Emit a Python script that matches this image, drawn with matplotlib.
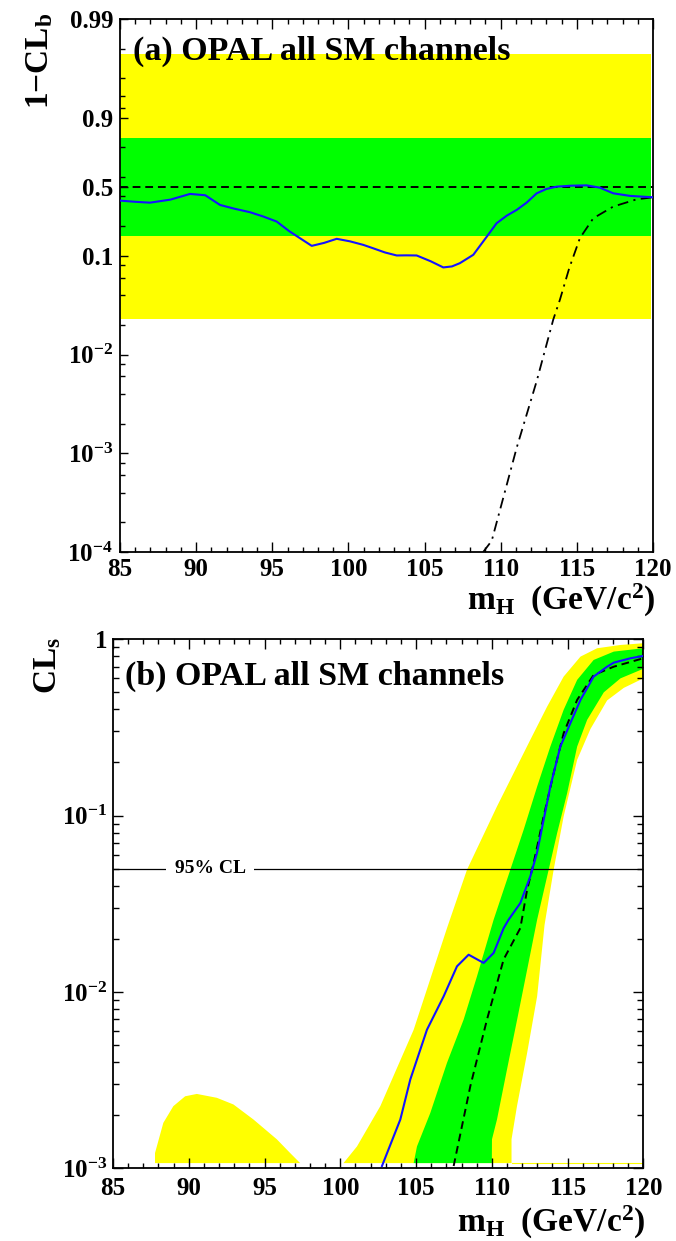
import numpy as np
import matplotlib
matplotlib.use("Agg")
import matplotlib.pyplot as plt
from matplotlib.ticker import FixedLocator, FixedFormatter, NullFormatter

plt.rcParams["font.family"] = ["Liberation Serif", "DejaVu Serif"]
plt.rcParams["font.weight"] = "bold"
plt.rcParams["mathtext.fontset"] = "custom"
plt.rcParams["mathtext.rm"] = "Liberation Serif:bold"
plt.rcParams["mathtext.it"] = "Liberation Serif:bold"
plt.rcParams["mathtext.bf"] = "Liberation Serif:bold"

# ---------------------------------------------------------------------------
# (a) 1 - CL_b
# ---------------------------------------------------------------------------
SIGMA_1 = (0.1587, 0.8413)
SIGMA_2 = (0.02275, 0.97725)
MEDIAN = 0.5

mh_obs_a = [85.0, 86.0, 86.97, 88.3, 89.6, 90.6, 91.57, 92.5, 93.54, 94.4,
            95.29, 96.1, 96.82, 97.59, 98.4, 99.23, 100.1, 100.97, 101.63,
            102.4, 103.17, 103.8, 104.48, 105.4, 106.23, 106.8, 107.32, 108.2,
            109.0, 109.73, 110.4, 111.05, 111.7, 112.36, 113.0, 113.67, 114.6,
            115.64, 116.5, 117.39, 118.49, 120.0]
clb_obs_a = [0.362, 0.352, 0.345, 0.37, 0.423, 0.41, 0.327, 0.30, 0.276, 0.25,
             0.222, 0.178, 0.1506, 0.126, 0.135, 0.1485, 0.14, 0.129, 0.119,
             0.108, 0.1007, 0.101, 0.1007, 0.088, 0.0762, 0.078, 0.0842, 0.1023,
             0.15, 0.2135, 0.255, 0.2915, 0.345, 0.4287, 0.475, 0.501, 0.512,
             0.516, 0.49, 0.429, 0.404, 0.391]

mh_sb_a = [108.85, 109.41, 111.05, 112.36, 113.45, 113.89, 114.5, 115.2,
           116.08, 117.39, 118.93, 120.0]
clb_sb_a = [1e-4, 1.3e-4, 1.14e-3, 5.37e-3, 0.0226, 0.036, 0.075, 0.151,
            0.24, 0.315, 0.373, 0.391]

YT_A = [1e-4, 1e-3, 1e-2, 0.1, 0.5, 0.9, 0.99]
YT_A_LABELS = [r"$10^{-4}$", r"$10^{-3}$", r"$10^{-2}$", "0.1", "0.5", "0.9", "0.99"]
YT_A_MINOR = [2e-4, 4e-4, 6e-4, 8e-4, 2e-3, 4e-3, 6e-3, 8e-3,
              0.02, 0.04, 0.06, 0.08, 0.2, 0.4, 0.6, 0.8,
              0.92, 0.94, 0.96, 0.98]

# ---------------------------------------------------------------------------
# (b) CL_s
# ---------------------------------------------------------------------------
CLAMP = 1.07e-3

# low-mass part of the upper 2 sigma edge
mh_y2_blob = [87.77, 87.77, 88.32, 88.98, 89.76, 90.53, 91.85, 92.95, 94.27,
              95.81, 96.69, 97.35]
cls_y2_blob = [1.07e-3, 1.22e-3, 1.81e-3, 2.25e-3, 2.56e-3, 2.64e-3, 2.51e-3,
               2.30e-3, 1.89e-3, 1.46e-3, 1.22e-3, 1.07e-3]

mh_y2_up = [100.21, 101.1, 102.64, 104.84, 107.04, 108.36, 110.34, 112.54,
            113.65, 114.74, 115.85, 116.95, 118.49, 120.0]
cls_y2_up = [1.07e-3, 1.33e-3, 2.25e-3, 6.1e-3, 0.023, 0.0493, 0.1127, 0.269,
             0.415, 0.614, 0.797, 0.889, 0.928, 0.949]
mh_y2_lo = [111.3, 111.3, 111.66, 112.33, 112.99, 113.48, 114.08, 114.74,
            115.63, 116.51, 117.61, 118.71, 120.0]
cls_y2_lo = [1.07e-3, 1.46e-3, 2.25e-3, 4.51e-3, 9.44e-3, 0.024, 0.0493,
             0.0989, 0.207, 0.31, 0.45, 0.53, 0.60]

mh_g1_up = [104.84, 105.06, 105.94, 107.04, 108.14, 109.02, 110.12, 111.22,
            112.1, 112.99, 113.86, 114.74, 115.63, 116.72, 118.05, 120.0]
cls_g1_up = [1.07e-3, 1.33e-3, 2.06e-3, 3.96e-3, 6.97e-3, 0.01225, 0.0257,
             0.0493, 0.0831, 0.146, 0.246, 0.398, 0.588, 0.763, 0.851, 0.889]
mh_g1_lo = [110.0, 110.01, 110.34, 111.0, 111.67, 112.33, 112.99, 113.65,
            114.31, 114.97, 115.63, 116.29, 117.39, 118.49, 120.0]
cls_g1_lo = [1.07e-3, 1.46e-3, 1.89e-3, 3.63e-3, 6.97e-3, 0.01337, 0.0257,
             0.0452, 0.0796, 0.134, 0.246, 0.349, 0.50, 0.60, 0.68]

mh_obs_b = [102.75, 103.96, 104.62, 105.72, 106.82, 107.7, 108.47, 109.46,
            110.12, 110.78, 111.11, 111.88, 112.54, 112.98, 113.42, 113.86,
            114.52, 115.18, 115.85, 116.72, 117.61, 118.05, 119.15, 120.0]
cls_obs_b = [1.03e-3, 1.89e-3, 3.19e-3, 6.11e-3, 9.44e-3, 0.01397, 0.01626,
             0.0146, 0.01664, 0.023, 0.0257, 0.0319, 0.0452, 0.0614, 0.0946,
             0.146, 0.246, 0.334, 0.453, 0.614, 0.699, 0.737, 0.780, 0.804]

mh_exp_b = [107.48, 108.58, 109.68, 110.78, 111.88, 112.33, 112.76, 113.42,
            114.08, 114.74, 115.63, 116.72, 118.05, 120.0]
cls_exp_b = [1.03e-3, 2.92e-3, 6.97e-3, 0.0153, 0.023, 0.038, 0.0538, 0.0989,
             0.174, 0.293, 0.453, 0.627, 0.699, 0.78]

CL95 = 0.05

YELLOW = "#ffff00"
GREEN = "#00ff00"
BLUE = "#1414ff"


# ---------------------------------------------------------------------------
# escala "log simetrica" en torno a 0.5 para 1-CL_b
# ---------------------------------------------------------------------------
LOG_HALF = np.log10(0.5)


def clb_forward(v):
    v = np.clip(np.asarray(v, dtype=float), 1e-12, 1 - 1e-12)
    lo = np.log10(v)
    hi = 2 * LOG_HALF - np.log10(1 - v)
    return np.where(v <= 0.5, lo, hi)


def clb_inverse(t):
    t = np.asarray(t, dtype=float)
    lo = 10.0 ** np.minimum(t, LOG_HALF)
    hi = 1 - 10.0 ** (2 * LOG_HALF - np.maximum(t, LOG_HALF))
    return np.where(t <= LOG_HALF, lo, hi)


def style_x(ax, top=True):
    ax.set_xlim(85, 120)
    ax.xaxis.set_major_locator(FixedLocator(np.arange(85, 121, 5)))
    ax.xaxis.set_minor_locator(FixedLocator(np.arange(85, 121, 1)))
    ax.tick_params(axis="x", which="both", direction="in", top=top,
                   labelsize=18, pad=4)
    ax.tick_params(axis="x", which="major", length=7, width=1)
    ax.tick_params(axis="x", which="minor", length=3.6, width=1)
    for sp in ax.spines.values():
        sp.set_linewidth(1.3)


fig = plt.figure(figsize=(6.76, 12.41), dpi=100)

# ---------------------------- panel (a) ------------------------------------
axa = fig.add_axes([0.1775, 0.5552, 0.7885, 0.4295])
axa.set_yscale("function", functions=(clb_forward, clb_inverse))
axa.axhspan(SIGMA_2[0], SIGMA_2[1], xmax=0.997, color=YELLOW, lw=0, zorder=0)
axa.axhspan(SIGMA_1[0], SIGMA_1[1], xmax=0.997, color=GREEN, lw=0, zorder=0.5)
axa.axhline(MEDIAN, color="black", lw=1.4, ls=(0, (4, 2.5)), zorder=2)
axa.plot(mh_sb_a, clb_sb_a, color="black", lw=1.3,
         ls=(0, (6, 3, 1.2, 3)), zorder=3)
axa.plot(mh_obs_a, clb_obs_a, color=BLUE, lw=1.5, zorder=4)
axa.set_ylim(1e-4, 0.99)
axa.yaxis.set_major_locator(FixedLocator(YT_A))
axa.yaxis.set_major_formatter(FixedFormatter(YT_A_LABELS))
axa.yaxis.set_minor_locator(FixedLocator(YT_A_MINOR))
axa.yaxis.set_minor_formatter(NullFormatter())
axa.tick_params(axis="y", which="both", direction="in", right=False,
                labelsize=18, pad=5)
axa.tick_params(axis="y", which="major", length=6, width=1)
axa.tick_params(axis="y", which="minor", length=3.6, width=1)
style_x(axa)
axa.text(0.024, 0.923, "(a) OPAL all SM channels", transform=axa.transAxes,
         fontsize=24.5, ha="left", va="baseline", zorder=5)

fig.text(0.059, 0.9895, r"$1{-}\mathrm{CL}_{\mathrm{b}}$", rotation=90,
         ha="center", va="top", fontsize=24)
fig.text(0.969, 0.5085, r"$\mathrm{m}_{\mathrm{H}}$  (GeV/c$^{2}$)",
         ha="right", va="baseline", fontsize=24)

# ---------------------------- panel (b) ------------------------------------
axb = fig.add_axes([0.1672, 0.0586, 0.7845, 0.4263])
axb.set_yscale("log")
axb.fill(mh_y2_blob, cls_y2_blob, color=YELLOW, lw=0, zorder=0)
axb.fill(np.concatenate([mh_y2_up, mh_y2_lo[::-1]]),
         np.concatenate([cls_y2_up, cls_y2_lo[::-1]]),
         color=YELLOW, lw=0, zorder=0)
axb.plot([mh_y2_lo[0], 120], [CLAMP, CLAMP], color=YELLOW, lw=0.8, zorder=0)
axb.fill(np.concatenate([mh_g1_up, mh_g1_lo[::-1]]),
         np.concatenate([cls_g1_up, cls_g1_lo[::-1]]),
         color=GREEN, lw=0, zorder=0.5)
axb.axhline(CL95, color="black", lw=0.9, zorder=2)
axb.text(91.4, CL95, "95% CL", fontsize=14, ha="center", va="center",
         bbox=dict(boxstyle="square,pad=0.45", fc="white", ec="none"), zorder=2.5)
axb.plot(mh_exp_b, cls_exp_b, color="black", lw=1.4, ls=(0, (4, 2.5)), zorder=3)
axb.plot(mh_obs_b, cls_obs_b, color=BLUE, lw=1.5, zorder=4)
axb.set_ylim(1e-3, 1)
axb.yaxis.set_major_locator(FixedLocator([1e-3, 1e-2, 1e-1, 1]))
axb.yaxis.set_major_formatter(FixedFormatter(
    [r"$10^{-3}$", r"$10^{-2}$", r"$10^{-1}$", "1"]))
axb.yaxis.set_minor_locator(FixedLocator(
    [m * 10.0 ** e for e in (-3, -2, -1) for m in range(2, 10)]))
axb.yaxis.set_minor_formatter(NullFormatter())
axb.tick_params(axis="y", which="both", direction="in", right=True,
                labelsize=18, pad=4)
axb.tick_params(axis="y", which="major", length=7.5, width=1)
axb.tick_params(axis="y", which="minor", length=4, width=1)
style_x(axb)
axb.tick_params(axis="x", pad=6)
axb.text(0.0226, 0.9136, "(b) OPAL all SM channels", transform=axb.transAxes,
         fontsize=24.5, ha="left", va="baseline", zorder=5)

fig.text(0.07, 0.487, r"$\mathrm{CL}_{\mathrm{s}}$", rotation=90,
         ha="center", va="top", fontsize=24)
fig.text(0.954, 0.0073, r"$\mathrm{m}_{\mathrm{H}}$  (GeV/c$^{2}$)",
         ha="right", va="baseline", fontsize=24)

fig.savefig("out.png", dpi=100)
